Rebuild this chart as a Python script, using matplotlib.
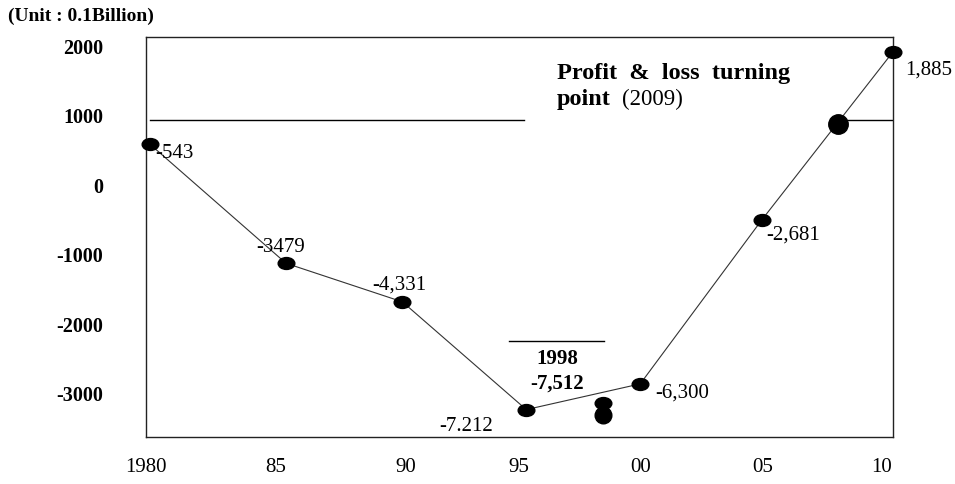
import matplotlib
matplotlib.use("Agg")
import matplotlib.pyplot as plt
from matplotlib.path import Path
from matplotlib.transforms import Affine2D

# ---- data ----
years = [1980, 1985.5, 1990.2, 1995.2, 1999.8, 2004.7, 2010]
values = [590, -1125, -1680, -3230, -2860, -505, 1915]
point_labels = ["-543", "-3479", "-4,331", "-7.212", "-6,300", "-2,681", "1,885"]

year_1998 = [1998.3, 1998.3]
values_1998 = [-3140, -3310]
label_1998 = ["1998", "-7,512"]

turn_year = 2007.8
turn_value = 875

ref_level = 930           # horizontal reference line level
ref_left_span = [1980, 1995.1]
ref_right_span = [2007.9, 2010]
bar_1998_level = -2245
bar_1998_span = [1994.5, 1998.35]

ytick_vals = [2000, 1000, 0, -1000, -2000, -3000]
ytick_labels = ["2000", "1000", "0", "-1000", "-2000", "-3000"]
xtick_vals = [1979.85, 1985.1, 1990.35, 1994.9, 1999.8, 2004.75, 2009.55]
xtick_labels = ["1980", "85", "90", "95", "00", "05", "10"]

plt.rcParams["font.family"] = ["Liberation Serif", "DejaVu Serif"]

# elliptical marker (wider than tall), like the scanned dots
ellipse = Path.unit_circle().transformed(Affine2D().scale(1.4, 1.0))

fig = plt.figure(figsize=(9.55, 4.84), dpi=100)
ax = fig.add_axes([0.1529, 0.0977, 0.935 - 0.1529, 0.9236 - 0.0977])

ax.set_xlim(1980, 2010)
ax.set_ylim(-3620, 2130)

# main line and markers
ax.plot(years, values, color="#333333", lw=0.8, zorder=2, clip_on=False)
ax.plot(years, values, ls="none", marker=ellipse, ms=12, color="black",
        zorder=3, clip_on=False)

# 1998 points
ax.plot(year_1998[:1], values_1998[:1], ls="none", marker=ellipse, ms=12,
        color="black", zorder=3)
ax.plot(year_1998[1:], values_1998[1:], ls="none", marker="o", ms=12,
        color="black", zorder=3)

# turning point
ax.plot([turn_year], [turn_value], ls="none", marker="o", ms=14,
        color="black", zorder=3)

# reference lines
ax.plot(ref_left_span, [ref_level] * 2, color="black", lw=1.0, zorder=1)
ax.plot(ref_right_span, [ref_level] * 2, color="black", lw=1.0, zorder=1)
ax.plot(bar_1998_span, [bar_1998_level] * 2, color="black", lw=1.0, zorder=1)

# data labels (offsets in points)
offsets = [(4, -6.5, "left"), (-4, 11.5, "center"), (-2, 12, "center"),
           (-43, -12, "center"), (11, -6.5, "left"), (3, -11, "left"),
           (9, -13, "left")]
for x, y, lab, (dx, dy, ha) in zip(years, values, point_labels, offsets):
    ax.annotate(lab, (x, y), xytext=(dx, dy), textcoords="offset points",
                ha=ha, va="center", fontsize=15, color="black")

ax.annotate(label_1998[0], (year_1998[0], values_1998[0]), xytext=(-33, 32),
            textcoords="offset points", ha="center", va="center",
            fontsize=15, fontweight="bold")
ax.annotate(label_1998[1], (year_1998[0], values_1998[0]), xytext=(-33, 14.5),
            textcoords="offset points", ha="center", va="center",
            fontsize=15, fontweight="bold")

# turning point annotation text
fig.text(557 / 955, 1 - 74 / 484, "Profit  &  loss  turning", fontsize=17.5,
         fontweight="bold", ha="left", va="center")
fig.text(557 / 955, 1 - 99 / 484, "point", fontsize=17.5,
         fontweight="bold", ha="left", va="center")
fig.text(622 / 955, 1 - 99 / 484, "(2009)", fontsize=16.5,
         ha="left", va="center")

# axes styling
for s in ax.spines.values():
    s.set_linewidth(1.0)
    s.set_color("#222222")

ax.set_yticks(ytick_vals)
ax.set_yticklabels(ytick_labels, fontsize=14.5, fontweight="bold")
ax.set_xticks(xtick_vals)
ax.set_xticklabels(xtick_labels, fontsize=15)
ax.tick_params(axis="y", length=0, pad=31)
ax.tick_params(axis="x", length=0, pad=15)

fig.text(8 / 955, 1 - 16 / 484, "(Unit : 0.1Billion)", fontsize=14,
         fontweight="bold", ha="left", va="center")

fig.savefig("out.png", dpi=100)
